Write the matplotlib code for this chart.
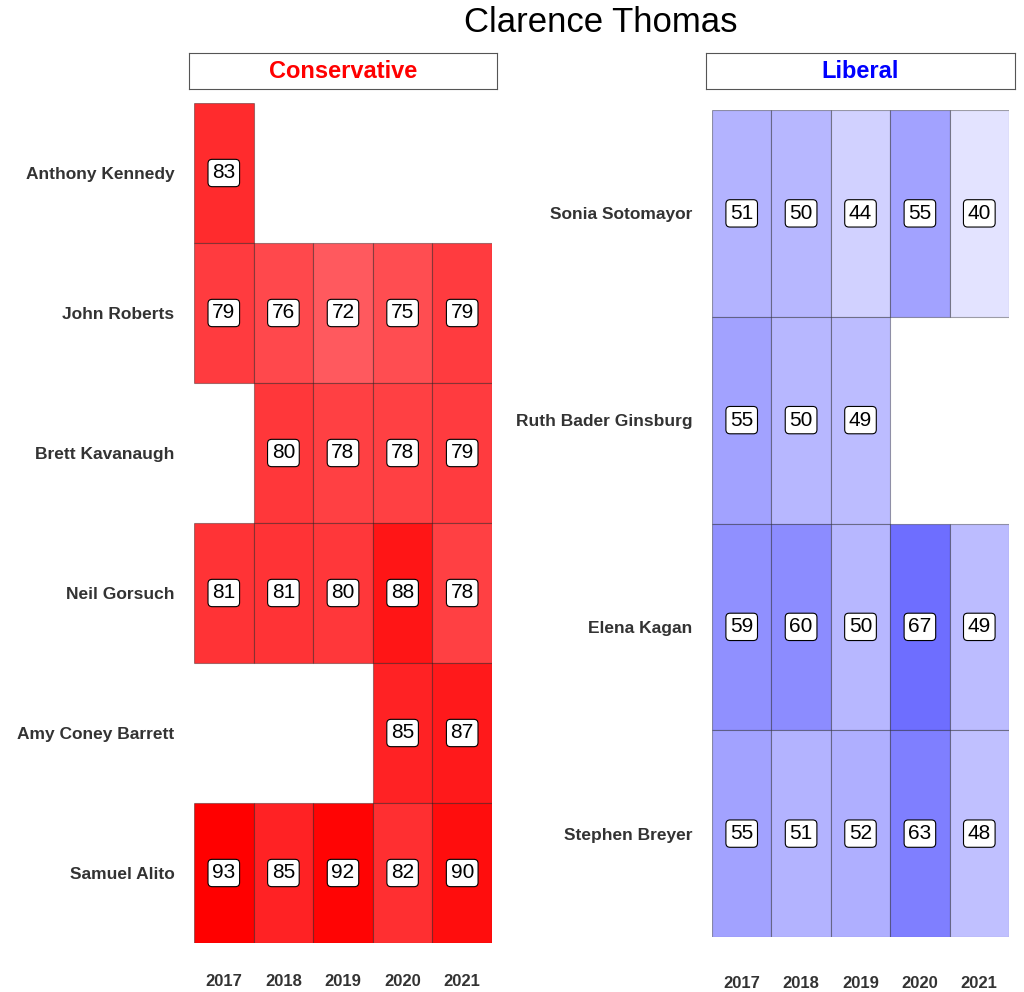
import matplotlib
matplotlib.use("Agg")
import matplotlib.pyplot as plt
import numpy as np

plt.rcParams['font.family'] = ['Liberation Sans', 'DejaVu Sans']

years = [2017, 2018, 2019, 2020, 2021]

cons_names = ["Anthony Kennedy", "John Roberts", "Brett Kavanaugh",
              "Neil Gorsuch", "Amy Coney Barrett", "Samuel Alito"]
cons_vals = [
    [83, None, None, None, None],
    [79, 76, 72, 75, 79],
    [None, 80, 78, 78, 79],
    [81, 81, 80, 88, 78],
    [None, None, None, 85, 87],
    [93, 85, 92, 82, 90],
]

lib_names = ["Sonia Sotomayor", "Ruth Bader Ginsburg", "Elena Kagan", "Stephen Breyer"]
lib_vals = [
    [51, 50, 44, 55, 40],
    [55, 50, 49, None, None],
    [59, 60, 50, 67, 49],
    [55, 51, 52, 63, 48],
]


def red(v):
    g = min(max((93 - v) / 57.0, 0), 1)
    return (1.0, g * 0.95, g)


def blue(v):
    g = min(max(0.43 + (67 - v) * 0.017, 0), 1)
    return (g, g, 1.0)


fig = plt.figure(figsize=(10.24, 9.92), dpi=100)
fig.text(0.587, 0.977, "Clarence Thomas", ha="center", va="center", fontsize=25)


def panel(rect, names, vals, colfn, strip_rect, title, tcolor, xpad):
    ax = fig.add_axes(rect)
    n = len(names)
    for i, row in enumerate(vals):
        for j, v in enumerate(row):
            if v is None:
                continue
            y = n - 1 - i
            ax.bar(j, 1, width=1, bottom=y - 0.5, color=colfn(v),
                   edgecolor=(0, 0, 0, 0.35), linewidth=0.8)
            ax.text(j, y, str(v), ha="center", va="center", fontsize=15,
                    bbox=dict(boxstyle="round,pad=0.2", fc="white", ec="black", lw=0.8))
    ax.set_xlim(-0.5, 4.5)
    ax.set_ylim(-0.5, n - 0.5)
    ax.set_xticks(range(5))
    ax.set_xticklabels([str(y) for y in years], fontweight="bold", fontsize=12, color="#333333")
    ax.set_yticks(range(n))
    ax.set_yticklabels(names[::-1], fontweight="bold", fontsize=12.5, color="#333333")
    ax.tick_params(length=0, pad=14)
    ax.tick_params(axis="x", pad=xpad)
    for s in ax.spines.values():
        s.set_visible(False)
    sax = fig.add_axes(strip_rect)
    sax.set_xticks([])
    sax.set_yticks([])
    for s in sax.spines.values():
        s.set_color("#555555")
    sax.text(0.5, 0.5, title, ha="center", va="center", fontsize=17,
             fontweight="bold", color=tcolor, transform=sax.transAxes)


panel([194 / 1024, 49 / 992, 298 / 1024, 840 / 992], cons_names, cons_vals, red,
      [189 / 1024, 903 / 992, 308 / 1024, 36 / 992], "Conservative", "red", 22)
panel([712 / 1024, 55 / 992, 297 / 1024, 827 / 992], lib_names, lib_vals, blue,
      [706 / 1024, 903 / 992, 309 / 1024, 36 / 992], "Liberal", "blue", 28)

fig.savefig("out.png", dpi=100)
